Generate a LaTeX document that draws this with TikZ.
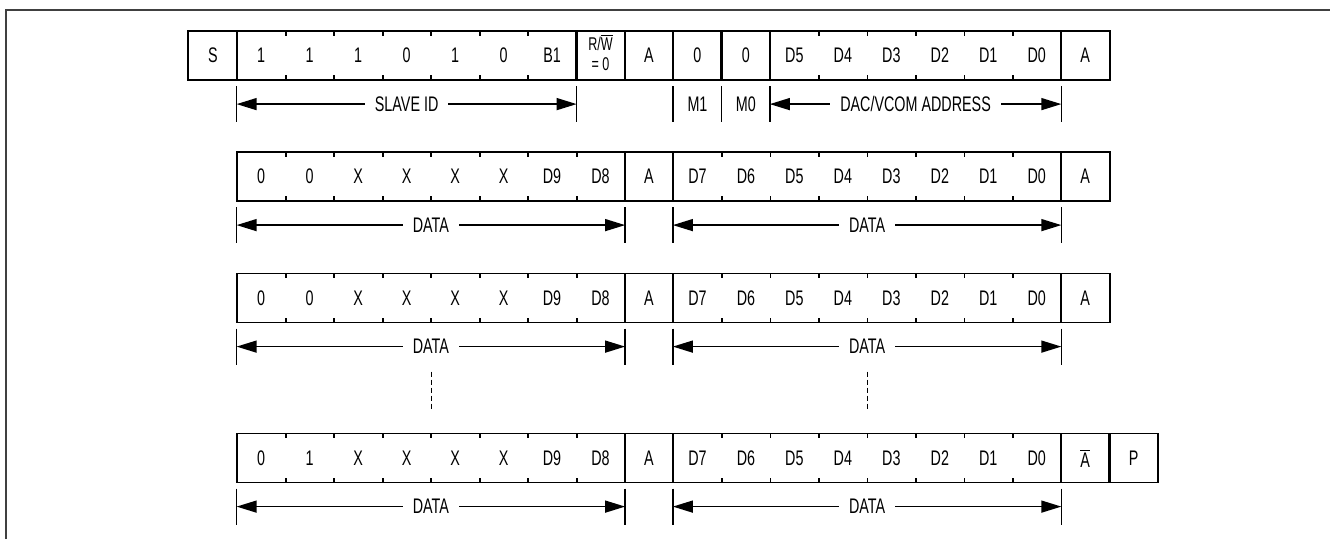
\documentclass[tikz,border=0pt]{standalone}
\usepackage{fontspec}
\setmainfont{Liberation Sans}[FakeStretch=0.68]
\usepackage{tikz}
\usetikzlibrary{arrows.meta}

\newcommand{\ovl}[1]{$\overline{\mbox{#1}}$}

\begin{document}
\begin{tikzpicture}[
        x=0.02cm, y=-0.02cm,
        cell/.style={rectangle, minimum width=0.9694cm, minimum height=0.97cm, inner sep=0pt, font=\fontsize{12}{14}\selectfont},
        frame/.style={draw=black, line width=1pt},
        notch/.style={draw=black, line width=1pt},
        guide/.style={draw=black, line width=0.8pt},
        dimline/.style={{Triangle[length=0.4cm, width=0.24cm]}-{Triangle[length=0.4cm, width=0.24cm]}, line width=0.8pt},
        dimlabel/.style={fill=white, inner xsep=0.2cm, inner ysep=1pt, font=\fontsize{12}{14}\selectfont},
        dotline/.style={line width=0.8pt, dash pattern=on 0.1cm off 0.06cm}
    ]
    \useasboundingbox (0,0) rectangle (1330,539);
    \draw[line width=1.3pt, draw=black!75] (6,539) -- (6,10) -- (1330,10);

    % row 1: slave address and command
    \node[cell] (r1s) at (212.8,55.5) {S};
    \foreach \t [count=\i from 0] in {1,1,1,0,1,0,B1,{\fontsize{10.5}{11.5}\selectfont\begin{tabular}{@{}c@{}}R/\ovl{W}\\= 0\end{tabular}},A,0,0,D5,D4,D3,D2,D1,D0,A}
        \node[cell] (r1c\i) at ({237+48.47*(\i+0.5)},55.5) {\t};
    \draw[frame] (r1s.north west) rectangle (r1s.south east)
        (r1c0.north west) rectangle (r1c6.south east)
        (r1c11.north west) rectangle (r1c16.south east);
    \foreach \i in {7,8,9,10,17}
        \draw[frame] (r1c\i.north west) rectangle (r1c\i.south east);
    \foreach \j in {0,1,2,3,4,5,11,12,13,14,15}
        \draw[notch] (r1c\j.north east) -- ++(0,5) (r1c\j.south east) -- ++(0,-5);
    \foreach \n in {r1c0.south west,r1c6.south east,r1c9.south west,r1c10.south west,r1c11.south west,r1c16.south east}
        \draw[guide] ([yshift=-0.12cm]\n) -- ([yshift=-0.84cm]\n);
    \draw[dimline] ([yshift=-0.48cm]r1c0.south west) -- node[dimlabel] {SLAVE ID} ([yshift=-0.48cm]r1c6.south east);
    \node[cell] (m1) at ([yshift=-0.48cm]r1c9.south) {M1};
    \node[cell] (m0) at ([yshift=-0.48cm]r1c10.south) {M0};
    \draw[dimline] ([yshift=-0.48cm]r1c11.south west) -- node[dimlabel] {DAC/VCOM ADDRESS} ([yshift=-0.48cm]r1c16.south east);

    % rows 2-4: data words
    \foreach \row/\ypos/\second/\endbit in {2/176.5/0/A,3/298/0/A,4/458/1/\ovl{A}} {
        \foreach \t [count=\i from 0] in {0,\second,X,X,X,X,D9,D8,A,D7,D6,D5,D4,D3,D2,D1,D0,\endbit}
            \node[cell] (r\row c\i) at ({237+48.47*(\i+0.5)},\ypos) {\t};
        \draw[frame] (r\row c0.north west) rectangle (r\row c7.south east)
            (r\row c8.north west) rectangle (r\row c8.south east)
            (r\row c9.north west) rectangle (r\row c16.south east)
            (r\row c17.north west) rectangle (r\row c17.south east);
        \foreach \j in {0,1,2,3,4,5,6,9,10,11,12,13,14,15}
            \draw[notch] (r\row c\j.north east) -- ++(0,5) (r\row c\j.south east) -- ++(0,-5);
        \foreach \n in {r\row c0.south west,r\row c7.south east,r\row c9.south west,r\row c16.south east}
            \draw[guide] ([yshift=-0.12cm]\n) -- ([yshift=-0.84cm]\n);
        \draw[dimline] ([yshift=-0.48cm]r\row c0.south west) -- node[dimlabel] {DATA} ([yshift=-0.48cm]r\row c7.south east);
        \draw[dimline] ([yshift=-0.48cm]r\row c9.south west) -- node[dimlabel] {DATA} ([yshift=-0.48cm]r\row c16.south east);
    }
    \node[cell] (r4p) at ({237+48.47*18.5},458) {P};
    \draw[frame] (r4p.north west) rectangle (r4p.south east);

    % more words in between
    \draw[dotline] ([yshift=-0.98cm]r3c3.south east) -- ([yshift=0.44cm]r4c3.north east);
    \draw[dotline] ([yshift=-0.98cm]r3c12.south east) -- ([yshift=0.44cm]r4c12.north east);
\end{tikzpicture}
\end{document}
